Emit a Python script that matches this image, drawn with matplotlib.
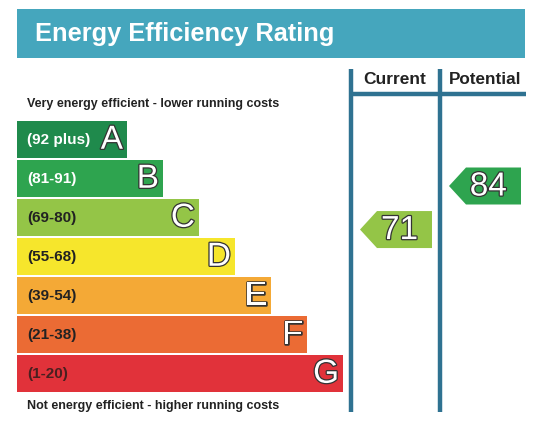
import matplotlib
matplotlib.use("Agg")
import matplotlib.pyplot as plt
from matplotlib.patches import Rectangle, Polygon
import matplotlib.patheffects as pe

# donnees du certificat
bands = ["A", "B", "C", "D", "E", "F", "G"]
ranges = ["(92 plus)", "(81-91)", "(69-80)", "(55-68)", "(39-54)", "(21-38)", "(1-20)"]
band_colors = ["#1f8a4c", "#2ea44f", "#94c547", "#f6e62c", "#f4a936", "#eb6b34", "#e1323a"]
range_text_colors = ["white", "white", "#222222", "#222222", "#222222", "#222222", "#4a2020"]
current = 71
potential = 84
current_band = "C"
potential_band = "B"

teal = "#45a6bd"
line_col = "#2f7291"

fig = plt.figure(figsize=(5.46, 4.37), dpi=100)
ax = fig.add_axes([0, 0, 1, 1])
ax.set_xlim(0, 546)
ax.set_ylim(437, 0)
ax.axis("off")

# bandeau titre
ax.add_patch(Rectangle((17, 9), 508, 49, color=teal, lw=0))
ax.text(35, 34, "Energy Efficiency Rating", color="white", fontsize=18.3,
        fontweight="bold", family="Liberation Sans", va="center", ha="left")

# colonnes
ax.plot([351, 351], [69, 412], color=line_col, lw=3.2, solid_capstyle="butt")
ax.plot([439.5, 439.5], [69, 412], color=line_col, lw=3.2, solid_capstyle="butt")
ax.plot([351, 526], [94, 94], color=line_col, lw=3.2, solid_capstyle="butt")
ax.text(395, 80, "Current", fontsize=12.5, fontweight="bold", family="Liberation Sans",
        ha="center", va="center", color="#222222")
ax.text(485, 80, "Potential", fontsize=12.3, fontweight="bold", family="Liberation Sans",
        ha="center", va="center", color="#222222")

ax.text(27, 104, "Very energy efficient - lower running costs", fontsize=9,
        fontweight="bold", family="Liberation Sans", ha="left", va="center", color="#222222")
ax.text(27, 406, "Not energy efficient - higher running costs", fontsize=9,
        fontweight="bold", family="Liberation Sans", ha="left", va="center", color="#222222")

outline = [pe.Stroke(linewidth=1.8, foreground="#333333"), pe.Normal()]

# barres
top0, step, h = 121, 39, 36.5
for i, (b, r) in enumerate(zip(bands, ranges)):
    y = top0 + i * step
    w = 110 + 36 * i
    ax.add_patch(Rectangle((17, y), w, h, color=band_colors[i], lw=0))
    ax.text(27, y + h / 2 + 1, r, fontsize=11, fontweight="bold", family="Liberation Sans",
            color=range_text_colors[i], ha="left", va="center")
    ax.text(17 + w - 4, y + h / 2 + 1, b, fontsize=24, family="Liberation Sans",
            color="white", ha="right", va="center", path_effects=outline)


def arrow(x0, x1, yc, val, col):
    hh = 18.5
    tip = 17
    pts = [(x0, yc), (x0 + tip, yc - hh), (x1, yc - hh), (x1, yc + hh), (x0 + tip, yc + hh)]
    ax.add_patch(Polygon(pts, closed=True, color=col, lw=0))
    ax.text(x1 - 14, yc + 1, str(val), fontsize=24, family="Liberation Sans", color="white",
            ha="right", va="center", path_effects=outline)


def val_y(v):
    return 186 + (84 - v) * 3.35


arrow(360, 432, val_y(current), current, band_colors[bands.index(current_band)])
arrow(449, 521, val_y(potential), potential, band_colors[bands.index(potential_band)])

fig.savefig("out.png", dpi=100)
